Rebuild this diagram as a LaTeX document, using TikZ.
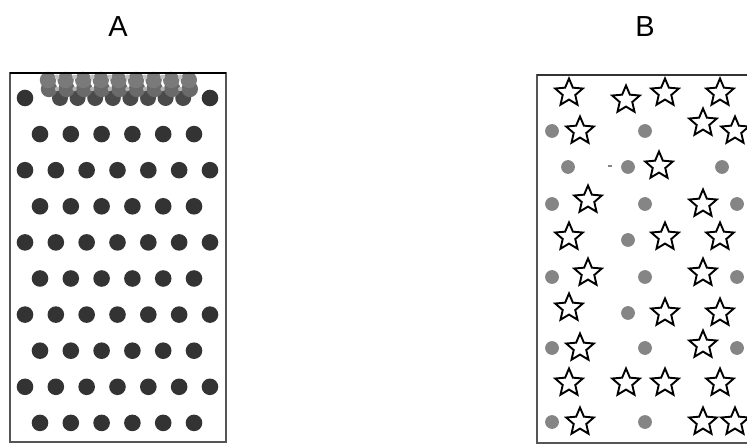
\documentclass[tikz,border=0pt]{standalone}
\usepackage{fontspec}
\setmainfont{Liberation Sans}
\usetikzlibrary{shapes.geometric}
\definecolor{dotdark}{HTML}{333333}
\definecolor{dotgray}{HTML}{858585}
\definecolor{clustertop}{HTML}{7A7A7A}
\definecolor{clustermid}{HTML}{6A6A6A}
\definecolor{clusterbot}{HTML}{4A4A4A}
\definecolor{clusterhi}{HTML}{C4C4C4}
\definecolor{framecol}{HTML}{555555}
\tikzset{
  boxline/.style={draw=framecol, line width=1.8pt},
  dotA/.style={fill=dotdark},
  dotB/.style={fill=dotgray},
  starB/.style={star, star points=5, star point ratio=2.2, minimum size=29pt,
    inner sep=0pt, draw=black, fill=white, line width=1.9pt, line join=miter},
  title/.style={inner sep=0pt, font=\fontsize{29}{29}\selectfont}
}
\begin{document}
\begin{tikzpicture}[x=1pt,y=-1pt]
\clip (0,0) rectangle (747,446);
\fill[white] (0,0) rectangle (747,446);
% titles
\node[title] (tA) at (118,27) {A};
\node[title] (tB) at (645,27) {B};
% ---------------- box A ----------------
\draw[boxline] (10,73) rectangle (226,442);
% cluster at the top
\foreach \k in {0,...,7}{
  \fill[clusterbot] ({60+17.6*\k},98) circle (8);
}
\foreach \k in {0,...,8}{
  \fill[clustermid] ({49+17.6*\k},89) circle (8.2);
}
\foreach \k in {0,...,8}{
  \fill[clustertop] ({48+17.6*\k},80) circle (8.2);
}
\foreach \k in {0,...,7}{
  \fill[clusterhi] ({57+17.6*\k},77) circle (2.4);
  \fill[clusterhi!80!clustermid] ({57+17.6*\k},89) circle (2.2);
}
\draw[black, line width=1.8pt] (10,73) -- (226,73);
% dots of A
\foreach \r in {0,2,4,6,8}{
  \foreach \k in {0,...,6}{
    \pgfmathtruncatemacro{\skip}{(\r==0)&&(\k>0)&&(\k<6)}
    \ifnum\skip=0
      \fill[dotA] ({25+30.83*\k},{98+36.1*\r}) circle (8.3);
    \fi
  }
}
\foreach \r in {1,3,5,7,9}{
  \foreach \k in {0,...,5}{
    \fill[dotA] ({40+30.8*\k},{98+36.1*\r}) circle (8.3);
  }
}
% ---------------- box B ----------------
\draw[boxline] (537,75) rectangle (754,443);
\draw[black!80, line width=1.8pt] (537,75) -- (754,75);
% grey dots
\foreach \x/\y in {552/131,645/131,
  568/167,628/167,722/167,
  552/204,645/204,737/204,
  628/240,
  552/277,645/277,737/277,
  628/313,
  552/348,645/348,737/348,
  552/422,645/422}{
  \fill[dotB] (\x,\y) circle (6.9);
}
\draw[dotgray, line width=1.2pt] (608,166) -- (612,166);
% stars
\foreach \x/\y [count=\i] in {569/93,626/100,665/93,720/93,
  580/131,703/123,735/131,
  659/166,
  588/200,703/204,
  569/237,665/237,720/237,
  588/273,703/273,
  569/308,665/313,720/313,
  580/348,703/345,
  569/383,626/383,665/383,720/383,
  580/422,703/422,735/422}{
  \node[starB] (s\i) at (\x,\y) {};
}
\end{tikzpicture}
\end{document}
